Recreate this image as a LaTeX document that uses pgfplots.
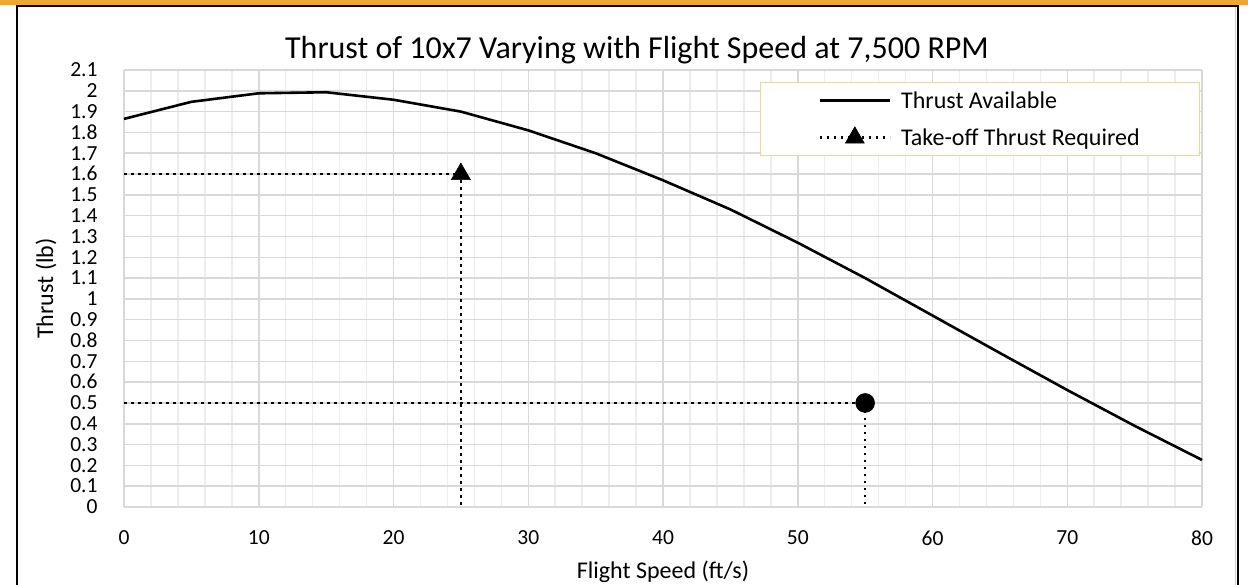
\documentclass[border=0pt]{standalone}
\usepackage{pgfplots}
\pgfplotsset{compat=1.18}
\usepackage{fontspec}
\setmainfont{Carlito}

\definecolor{framebar}{HTML}{F0A632}
\definecolor{legendedge}{HTML}{F6D58E}
\definecolor{gridmajor}{HTML}{D9D9D9}
\definecolor{gridminor}{HTML}{EDEDED}

\newcommand{\ticksize}{\fontsize{21.5bp}{24bp}\selectfont}
\newcommand{\labelsize}{\fontsize{24bp}{27bp}\selectfont}
\newcommand{\titlesize}{\fontsize{32bp}{36bp}\selectfont}

\begin{document}
\begin{tikzpicture}[x=1bp,y=1bp]
\path[use as bounding box] (0,0) rectangle (1248,585);

% chart frame
\fill[framebar] (0,580) rectangle (1248,585);
\draw[black!20, line width=1bp] (1235,0) -- (1235,578);
\draw[black, line width=2.2bp] (17,0) -- (17,579) -- (1238,579) -- (1238,0);

% title
\node[font=\titlesize] at (637,535) {Thrust of 10x7 Varying with Flight Speed at 7,500 RPM};

\begin{axis}[
  at={(124bp,78bp)}, anchor=south west,
  scale only axis, width=1078bp, height=437bp,
  xmin=0, xmax=80, ymin=0, ymax=2.1,
  xtick={0,10,...,80},
  minor x tick num=4,
  ytick={0,0.1,0.2,0.3,0.4,0.5,0.6,0.7,0.8,0.9,1,1.1,1.2,1.3,1.4,1.5,1.6,1.7,1.8,1.9,2,2.1},
  yticklabels={0,0.1,0.2,0.3,0.4,0.5,0.6,0.7,0.8,0.9,1,1.1,1.2,1.3,1.4,1.5,1.6,1.7,1.8,1.9,2,2.1},
  /pgf/number format/assume math mode=true,
  major tick length=0pt, minor tick length=0pt,
  axis line style={draw=none},
  xmajorgrids, ymajorgrids, xminorgrids,
  major grid style={gridmajor, line width=1.5bp},
  minor grid style={gridminor, line width=1.5bp},
  tick label style={font=\ticksize},
  xticklabel style={yshift=-20bp},
  yticklabel style={xshift=-23bp, inner ysep=0pt, text height=13.6bp, text depth=0pt},
  xlabel={Flight Speed (ft/s)},
  ylabel={Thrust (lb)},
  label style={font=\labelsize},
  xlabel style={at={(0.5,0)}, anchor=center, yshift=-65bp},
  ylabel style={at={(0,0.5)}, anchor=center, yshift=78bp},
  clip=false,
  legend style={at={(0.59,0.9725)}, anchor=north west,
    draw=legendedge, line width=1bp, fill=white,
    font=\labelsize, inner xsep=58bp, inner ysep=7bp,
    row sep=15bp, column sep=8bp},
  legend cell align=left,
  legend image code/.code={
    \draw[mark repeat=2,mark phase=2,#1] plot coordinates {(0bp,0bp) (35bp,0bp) (70bp,0bp)};
  },
]
% thrust available
\addplot[black, line width=2.6bp, line join=round] coordinates {
  (0,1.865) (5,1.947) (10,1.988) (15,1.993) (20,1.957) (25,1.900)
  (30,1.810) (35,1.700) (40,1.570) (45,1.430) (50,1.270) (55,1.100)
  (60,0.920) (65,0.740) (70,0.562) (75,0.390) (80,0.226)
};
\addlegendentry{Thrust Available}

% take-off thrust required
\addplot[black, line width=2.5bp, dash pattern=on 2.5bp off 4.5bp,
  mark=triangle*, mark size=11bp, mark indices={2},
  mark options={solid, line width=0.5bp}] coordinates {
  (0,1.6) (25,1.6) (25,0)
};
\addlegendentry{Take-off Thrust Required}

% operating point
\addplot[black, line width=2.5bp, dash pattern=on 2.5bp off 4.5bp,
  mark=*, mark size=9.5bp, mark indices={2},
  mark options={solid, line width=0.5bp}, forget plot] coordinates {
  (0,0.5) (55,0.5) (55,0)
};
\end{axis}
\end{tikzpicture}
\end{document}
